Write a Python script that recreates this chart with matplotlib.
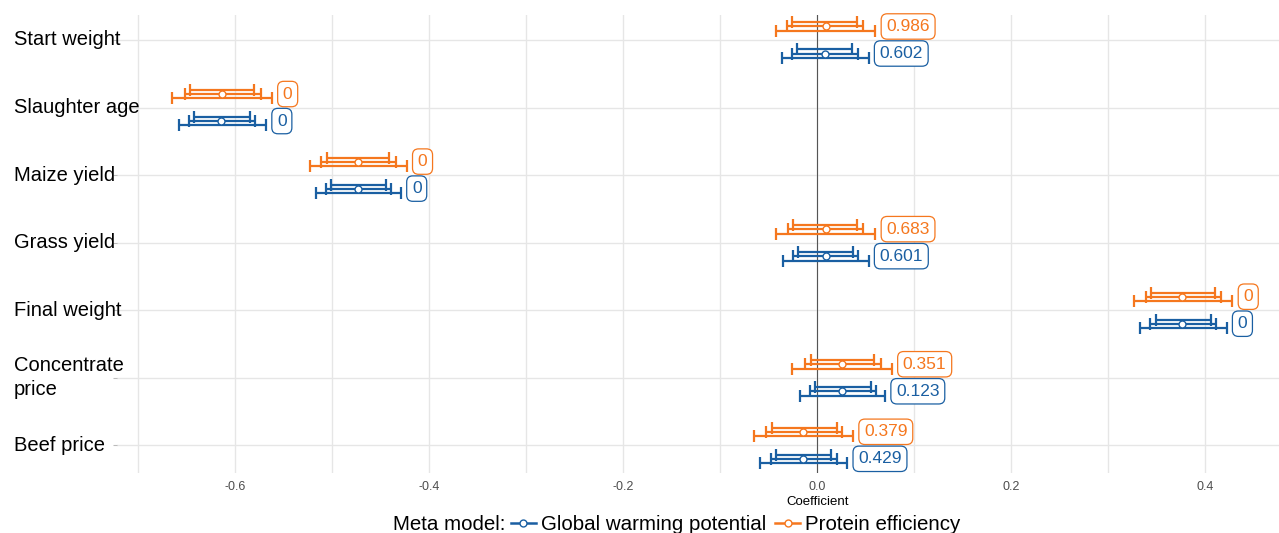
import matplotlib
matplotlib.use("Agg")
import matplotlib.pyplot as plt
import matplotlib.transforms as mtrans
from matplotlib.lines import Line2D

plt.rcParams['font.family'] = ['Liberation Sans', 'DejaVu Sans']

categories = ["Start weight", "Slaughter age", "Maize yield", "Grass yield",
              "Final weight", "Concentrate\nprice", "Beef price"]

# Global warming potential
gwp_est = [0.008, -0.614, -0.473, 0.009, 0.376, 0.026, -0.015]
gwp_in_lo = [-0.021, -0.642, -0.501, -0.020, 0.349, -0.002, -0.042]
gwp_in_hi = [0.036, -0.585, -0.444, 0.037, 0.406, 0.055, 0.014]
gwp_mid_lo = [-0.026, -0.647, -0.506, -0.025, 0.343, -0.007, -0.048]
gwp_mid_hi = [0.042, -0.579, -0.439, 0.042, 0.411, 0.061, 0.020]
gwp_out_lo = [-0.036, -0.658, -0.516, -0.035, 0.333, -0.018, -0.059]
gwp_out_hi = [0.053, -0.568, -0.429, 0.053, 0.422, 0.070, 0.031]
gwp_p = ["0.602", "0", "0", "0.601", "0", "0.123", "0.429"]

# Protein efficiency
pe_est = [0.009, -0.613, -0.473, 0.009, 0.376, 0.026, -0.015]
pe_in_lo = [-0.026, -0.646, -0.505, -0.025, 0.344, -0.006, -0.047]
pe_in_hi = [0.041, -0.580, -0.441, 0.041, 0.410, 0.059, 0.020]
pe_mid_lo = [-0.031, -0.652, -0.511, -0.030, 0.339, -0.013, -0.053]
pe_mid_hi = [0.047, -0.573, -0.434, 0.047, 0.416, 0.066, 0.026]
pe_out_lo = [-0.042, -0.665, -0.523, -0.042, 0.327, -0.026, -0.065]
pe_out_hi = [0.060, -0.562, -0.423, 0.060, 0.428, 0.077, 0.037]
pe_p = ["0.986", "0", "0", "0.683", "0", "0.351", "0.379"]

blue = "#1a5fa2"
orange = "#f5771e"

fig = plt.figure(figsize=(12.79, 5.33), dpi=100)
ax = fig.add_axes([117 / 1279, 1 - 473 / 533, 1 - 117 / 1279, (473 - 15) / 533])

series = [
    (pe_est, pe_in_lo, pe_in_hi, pe_mid_lo, pe_mid_hi, pe_out_lo, pe_out_hi, pe_p, orange, -0.2),
    (gwp_est, gwp_in_lo, gwp_in_hi, gwp_mid_lo, gwp_mid_hi, gwp_out_lo, gwp_out_hi, gwp_p, blue, 0.2),
]

for est, ilo, ihi, mlo, mhi, olo, ohi, pv, col, dodge in series:
    for i in range(len(categories)):
        y = i + dodge
        # three nested intervals, slightly offset vertically
        for lo, hi, off in [(ilo[i], ihi[i], -0.06), (mlo[i], mhi[i], 0.0), (olo[i], ohi[i], 0.065)]:
            ax.errorbar([est[i]], [y + off], xerr=[[est[i] - lo], [hi - est[i]]],
                        fmt='none', ecolor=col, elinewidth=1.6, capsize=4.4, capthick=1.6, zorder=3)
        ax.plot(est[i], y, 'o', mfc='white', mec=col, mew=1.0, ms=5, zorder=4)
        ax.annotate(pv[i], (ohi[i], y), xytext=(11, 0), textcoords='offset pixels',
                    ha='left', va='center', fontsize=12.5, color=col, zorder=5,
                    bbox=dict(boxstyle='round,pad=0.3,rounding_size=0.35', fc='white', ec=col, lw=0.9))

ax.axvline(0, color='#555555', lw=0.8, zorder=2)

ax.set_xlim(-0.7216, 0.476)
ax.set_ylim(6.41, -0.37)
ax.set_xticks([-0.6, -0.4, -0.2, 0.0, 0.2, 0.4])
ax.set_xticklabels(["-0.6", "-0.4", "-0.2", "0.0", "0.2", "0.4"])
ax.set_xticks([-0.7, -0.5, -0.3, -0.1, 0.1, 0.3], minor=True)
ax.set_yticks(range(len(categories)))
ax.set_yticklabels([])
ax.tick_params(axis='x', which='both', length=0, pad=6, labelsize=9, labelcolor='#4d4d4d')
ax.tick_params(axis='y', length=3, color='#bbbbbb', width=0.8)
ax.grid(True, which='both', color='#e6e6e6', lw=1.0, zorder=0)
ax.set_axisbelow(True)
for s in ax.spines.values():
    s.set_visible(False)

trans = mtrans.blended_transform_factory(fig.transFigure, ax.transData)
for i, c in enumerate(categories):
    ax.text(14 / 1279, i, c, transform=trans, ha='left', va='center',
            fontsize=14.5, color='black', linespacing=1.35)

fig.text(818 / 1279, 1 - 502 / 533, "Coefficient", ha='center', va='center', fontsize=9.5)

fig.text(393 / 1279, 1 - 525 / 533, "Meta model:", ha='left', va='center', fontsize=14.8)
handles = [Line2D([], [], color=blue, lw=1.8, marker='o', mfc='white', mec=blue, ms=5),
           Line2D([], [], color=orange, lw=1.8, marker='o', mfc='white', mec=orange, ms=5)]
fig.legend(handles, ["Global warming potential", "Protein efficiency"], ncol=2,
           loc='center left', bbox_to_anchor=(511 / 1279, 1 - 525 / 533), frameon=False,
           fontsize=14.8, handlelength=1.2, handletextpad=0.25, columnspacing=0.45,
           borderpad=0, borderaxespad=0)

fig.savefig("out.png", dpi=100)
